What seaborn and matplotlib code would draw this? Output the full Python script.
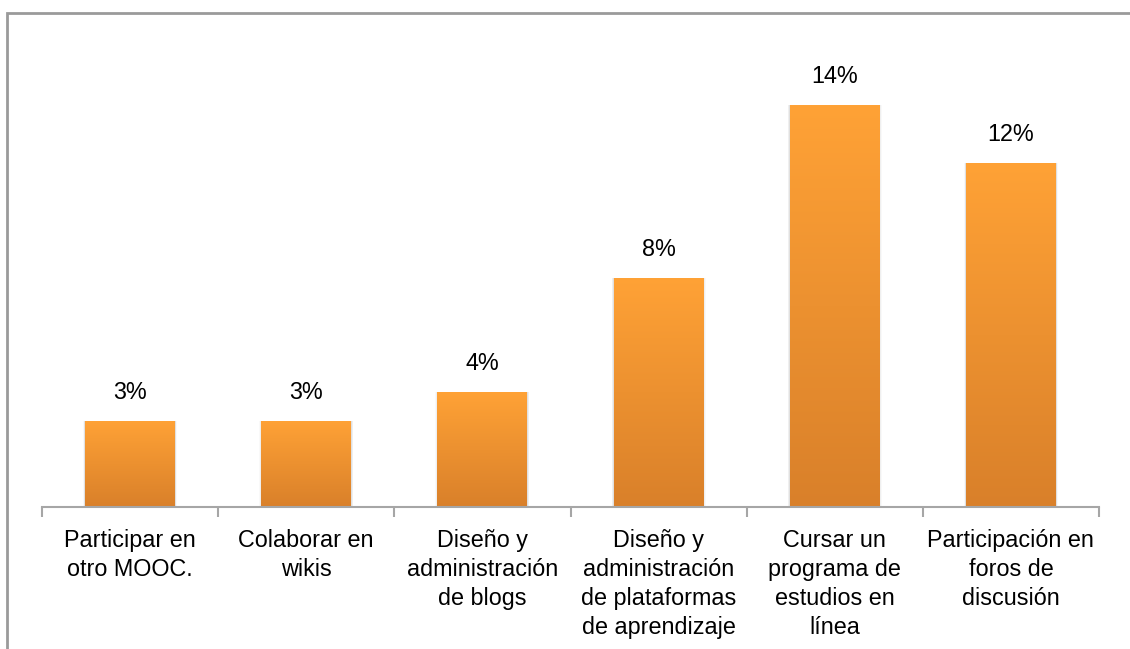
import numpy as np
import pandas as pd
import matplotlib
matplotlib.use("Agg")
import matplotlib.pyplot as plt
import seaborn as sns
from matplotlib.colors import LinearSegmentedColormap
from matplotlib.patches import Rectangle

categories = [
    "Participar en\notro MOOC.",
    "Colaborar en\nwikis",
    "Diseño y\nadministración\nde blogs",
    "Diseño y\nadministración\nde plataformas\nde aprendizaje",
    "Cursar un\nprograma de\nestudios en\nlínea",
    "Participación en\nforos de\ndiscusión",
]
values = [3, 3, 4, 8, 14, 12]
value_labels = ["3%", "3%", "4%", "8%", "14%", "12%"]

df = pd.DataFrame({"cat": categories, "val": values})

sns.set_theme(style="white")
plt.rcParams["font.family"] = ["Liberation Sans", "DejaVu Sans"]

fig = plt.figure(figsize=(11.3, 6.49), dpi=100)
ax = fig.add_axes([42/1130, 1 - 507/649, (1099-42)/1130, (507-48)/649])

sns.barplot(data=df, x="cat", y="val", color="#F39A33", width=0.51, ax=ax, saturation=1)

cmap = LinearSegmentedColormap.from_list("og", ["#D9802A", "#FFA236"])
grad = np.linspace(0, 1, 256).reshape(-1, 1)
for p in list(ax.patches):
    x0, y0 = p.get_x(), p.get_y()
    w, h = p.get_width(), p.get_height()
    for k, a in enumerate([0.06, 0.04, 0.025]):
        d = 0.004 * (k + 1)
        sh = Rectangle((x0 - d, y0), w + 2 * d, h, facecolor="#000000",
                       alpha=a, edgecolor="none", zorder=1)
        ax.add_patch(sh)
    p.set_zorder(2)
    p.set_edgecolor("none")
    im = ax.imshow(grad, cmap=cmap, origin="lower", aspect="auto",
                   extent=[x0, x0 + w, y0, y0 + h], zorder=3)
    im.set_clip_path(p)

ax.set_xlim(-0.5, len(categories) - 0.5)
ax.set_ylim(0, 16)

for i, (v, lab) in enumerate(zip(values, value_labels)):
    ax.annotate(lab, (i, v), xytext=(0, 20.5), textcoords="offset points",
                ha="center", va="center", fontsize=16.8, color="#000000")

for s in ["top", "right", "left"]:
    ax.spines[s].set_visible(False)
ax.spines["bottom"].set_color("#A6A6A6")
ax.spines["bottom"].set_linewidth(1.5)
ax.spines["bottom"].set_zorder(5)
ax.set_yticks([])
ax.set_xlabel("")
ax.set_ylabel("")

ax.set_xticks(range(len(categories)))
ax.set_xticklabels(categories, fontsize=16.8, linespacing=1.33, color="#000000", va="top")
ax.tick_params(axis="x", which="major", length=0, pad=16)
ax.set_xticks(np.arange(-0.5, len(categories), 1.0), minor=True)
ax.tick_params(axis="x", which="minor", length=7, width=1.5, color="#A6A6A6", bottom=True)

border = Rectangle((7/1130, -0.1), 1.2, 1 - 13/649 + 0.1, transform=fig.transFigure,
                   fill=False, edgecolor="#9A9A9A", linewidth=2)
fig.patches.append(border)

fig.savefig("out.png", dpi=100, facecolor="white")
